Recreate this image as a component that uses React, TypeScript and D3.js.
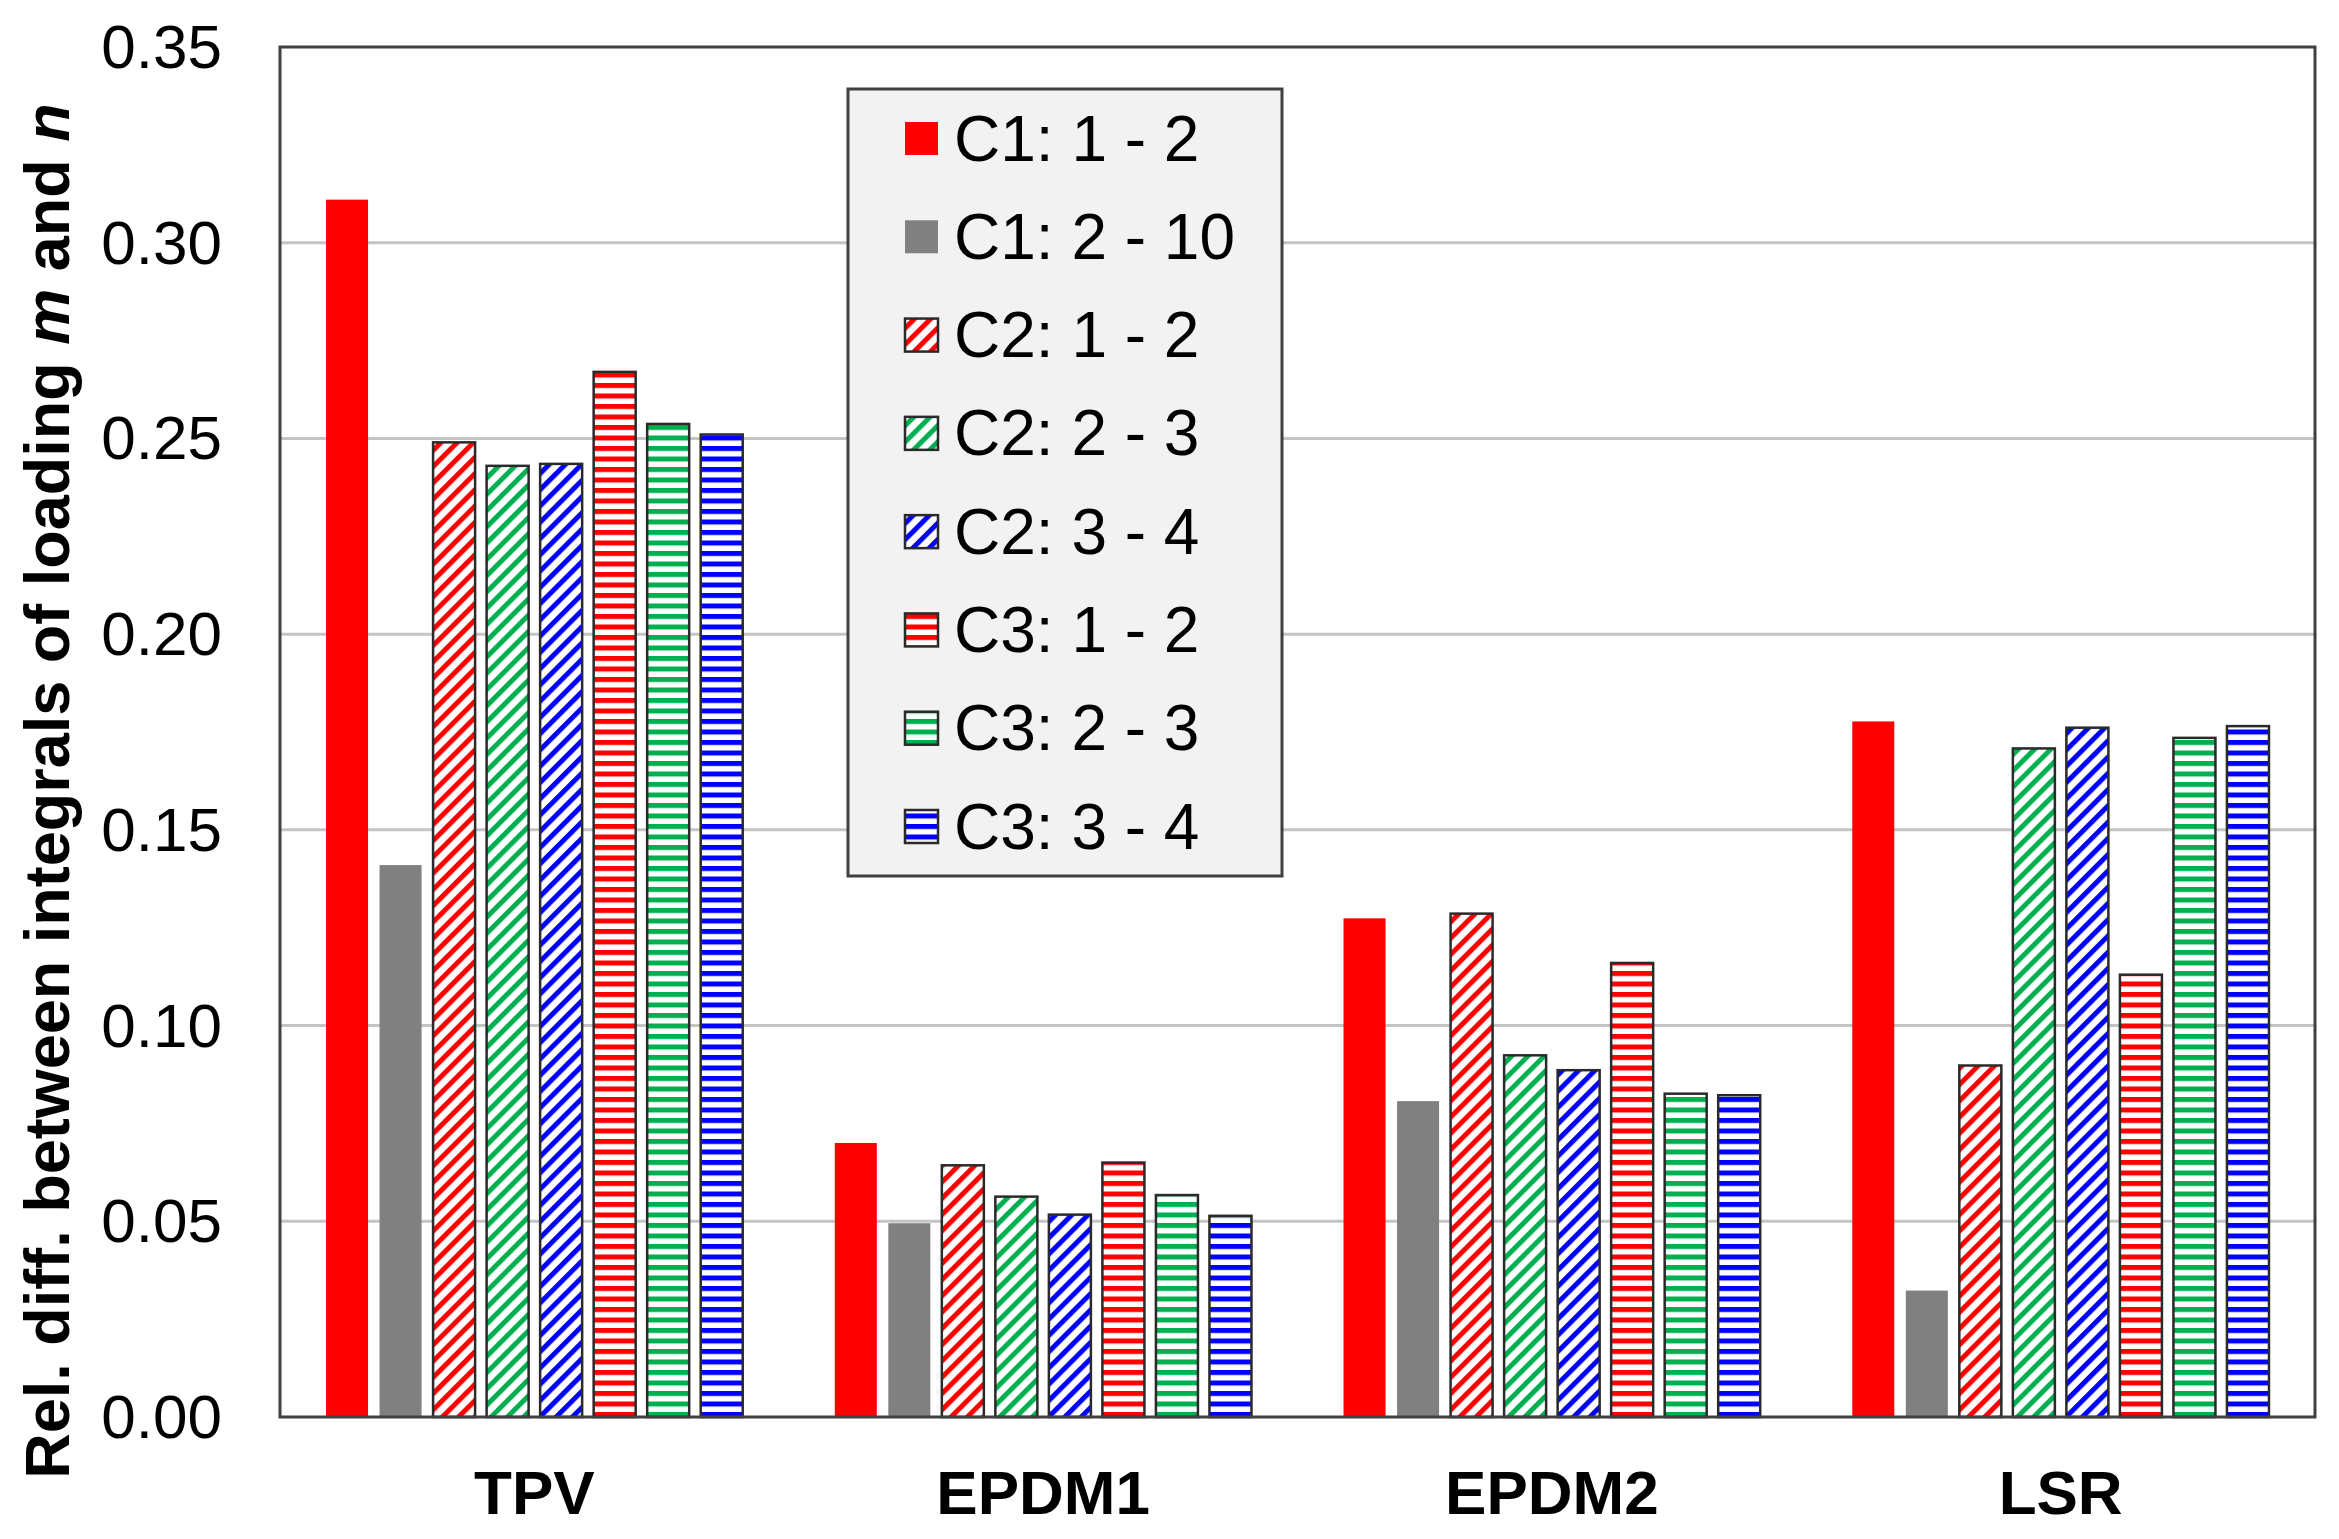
import React, { useEffect, useRef } from 'react';
import * as d3 from 'd3';

// Chart data
const categories = ['TPV', 'EPDM1', 'EPDM2', 'LSR'];
const seriesNames = ['C1: 1 - 2', 'C1: 2 - 10', 'C2: 1 - 2', 'C2: 2 - 3', 'C2: 3 - 4', 'C3: 1 - 2', 'C3: 2 - 3', 'C3: 3 - 4'];

const c1_1_2 = [0.311, 0.070, 0.1274, 0.1777];
const c1_2_10 = [0.141, 0.0495, 0.0807, 0.0323];
const c2_1_2 = [0.249, 0.0643, 0.1286, 0.0898];
const c2_2_3 = [0.243, 0.0563, 0.0924, 0.1708];
const c2_3_4 = [0.2435, 0.0517, 0.0886, 0.1761];
const c3_1_2 = [0.267, 0.065, 0.116, 0.113];
const c3_2_3 = [0.2537, 0.0567, 0.0826, 0.1735];
const c3_3_4 = [0.251, 0.0514, 0.0822, 0.1765];

const seriesValues = [c1_1_2, c1_2_10, c2_1_2, c2_2_3, c2_3_4, c3_1_2, c3_2_3, c3_3_4];
const seriesKinds = ['solid', 'solid', 'diag', 'diag', 'diag', 'horiz', 'horiz', 'horiz'];
const seriesColors = ['#ff0000', '#808080', '#ff0000', '#00b050', '#0000ff', '#ff0000', '#00b050', '#0000ff'];

const yTicks = [0, 0.05, 0.1, 0.15, 0.2, 0.25, 0.3, 0.35];

const W = 2339;
const H = 1539;
const FONT = '"Liberation Sans", Arial, Helvetica, sans-serif';

const fillFor = (i: number) =>
  seriesKinds[i] === 'solid' ? seriesColors[i] : `url(#pat-${i})`;

const App: React.FC = () => {
  const svgRef = useRef<SVGSVGElement>(null);

  useEffect(() => {
    if (!svgRef.current) return;
    const svg = d3.select(svgRef.current);
    svg.selectAll('*').remove();

    const margin = { top: 47, right: 24, bottom: 122, left: 280 };
    const innerW = W - margin.left - margin.right;
    const innerH = H - margin.top - margin.bottom;

    svg.append('rect').attr('width', W).attr('height', H).attr('fill', '#fff');

    // Hatch patterns
    const defs = svg.append('defs');
    seriesKinds.forEach((kind, i) => {
      if (kind === 'solid') return;
      const size = kind === 'diag' ? 11.5 : 10.5;
      const p = defs.append('pattern')
        .attr('id', `pat-${i}`)
        .attr('patternUnits', 'userSpaceOnUse')
        .attr('width', size)
        .attr('height', size);
      if (kind === 'diag') p.attr('patternTransform', 'rotate(-45)');
      p.append('rect').attr('width', size).attr('height', size).attr('fill', '#fff');
      p.append('rect')
        .attr('y', 0)
        .attr('width', size)
        .attr('height', kind === 'diag' ? 5 : 5)
        .attr('fill', seriesColors[i]);
    });

    const x0 = d3.scaleBand<string>().domain(categories).range([0, innerW]);
    const x1 = d3.scaleBand<string>()
      .domain(seriesNames)
      .range([0, x0.bandwidth()])
      .paddingInner(0.215)
      .paddingOuter(0.86);
    const y = d3.scaleLinear().domain([0, 0.35]).range([innerH, 0]);

    const g = svg.append('g').attr('transform', `translate(${margin.left},${margin.top})`);

    // Grid lines
    g.append('g')
      .selectAll('line')
      .data(yTicks.filter(t => t > 0 && t < 0.35))
      .join('line')
      .attr('x1', 0)
      .attr('x2', innerW)
      .attr('y1', d => y(d))
      .attr('y2', d => y(d))
      .attr('stroke', '#c4c4c4')
      .attr('stroke-width', 3);

    // Bars
    categories.forEach((cat, ci) => {
      const cg = g.append('g').attr('transform', `translate(${x0(cat)},0)`);
      seriesNames.forEach((s, si) => {
        const v = seriesValues[si][ci];
        const r = cg.append('rect')
          .attr('x', x1(s)!)
          .attr('y', y(v))
          .attr('width', x1.bandwidth())
          .attr('height', innerH - y(v))
          .attr('fill', fillFor(si));
        if (seriesKinds[si] !== 'solid') {
          r.attr('stroke', '#2a2a2a').attr('stroke-width', 2.5);
        }
      });
    });

    // Y tick labels
    g.append('g')
      .selectAll('text')
      .data(yTicks)
      .join('text')
      .attr('x', 222 - margin.left)
      .attr('y', d => y(d) + 21)
      .attr('text-anchor', 'end')
      .style('font-family', FONT)
      .style('font-size', '62px')
      .text(d => d3.format('.2f')(d));

    // X category labels
    g.append('g')
      .selectAll('text')
      .data(categories)
      .join('text')
      .attr('x', d => x0(d)! + x0.bandwidth() / 2)
      .attr('y', innerH + 97)
      .attr('text-anchor', 'middle')
      .style('font-family', FONT)
      .style('font-size', '62px')
      .style('font-weight', 'bold')
      .text(d => d);

    // Frame
    g.append('rect')
      .attr('width', innerW)
      .attr('height', innerH)
      .attr('fill', 'none')
      .attr('stroke', '#404040')
      .attr('stroke-width', 3);

    // Legend
    const lg = svg.append('g').attr('transform', 'translate(848,89)');
    lg.append('rect')
      .attr('width', 434)
      .attr('height', 787)
      .attr('fill', '#f2f2f2')
      .attr('stroke', '#404040')
      .attr('stroke-width', 3);
    const rowY = d3.scalePoint<string>().domain(seriesNames).range([49.5, 737.5]);
    seriesNames.forEach((s, si) => {
      const cy = rowY(s)!;
      const sw = lg.append('rect')
        .attr('x', 57)
        .attr('y', cy - 16.5)
        .attr('width', 33)
        .attr('height', 33)
        .attr('fill', fillFor(si));
      if (seriesKinds[si] !== 'solid') sw.attr('stroke', '#2a2a2a').attr('stroke-width', 2.5);
      lg.append('text')
        .attr('x', 106)
        .attr('y', cy + 22)
        .style('font-family', FONT)
        .style('font-size', '64px')
        .text(s);
    });

    // Y axis title
    const title = svg.append('text')
      .attr('transform', 'translate(69,791) rotate(-90)')
      .attr('text-anchor', 'middle')
      .style('font-family', FONT)
      .style('font-size', '63px')
      .style('font-weight', 'bold');
    title.append('tspan').text('Rel. diff. between integrals of loading ');
    title.append('tspan').style('font-style', 'italic').text('m');
    title.append('tspan').text(' and ');
    title.append('tspan').style('font-style', 'italic').text('n');
  }, []);

  return (
    <div style={{ position: 'absolute', left: 0, top: 0 }}>
      <svg ref={svgRef} width={W} height={H} style={{ display: 'block' }} />
    </div>
  );
};

export default App;
